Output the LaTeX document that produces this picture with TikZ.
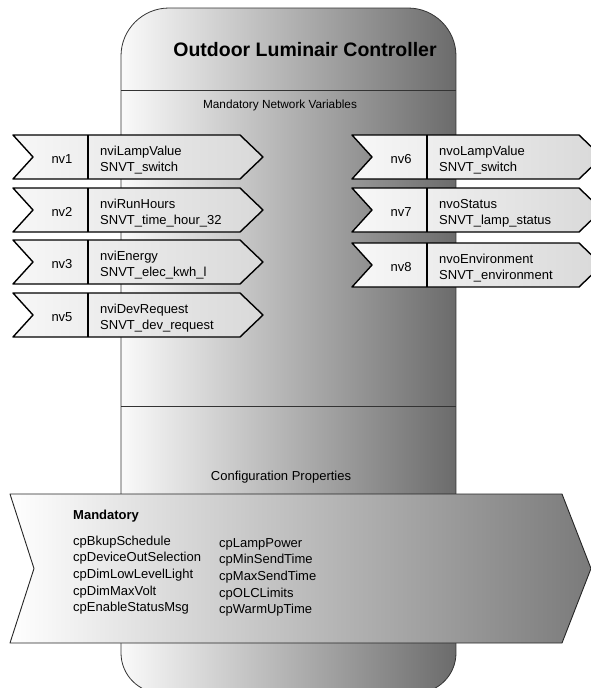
\documentclass[tikz,border=0pt]{standalone}
\usepackage{fontspec}
\setmainfont{Liberation Sans}
\begin{document}
\begin{tikzpicture}[x=1pt, y=-1pt, line join=round]
\tikzset{
  bodyfill/.style={left color=black!2, right color=black!58, draw=black!80, line width=0.8pt},
  cpfill/.style={left color=white, right color=black!52, draw=black!85, line width=0.9pt},
  tagfill/.style={left color=black!3, right color=black!15},
  tagline/.style={draw=black, line width=1.4pt},
  nvlabel/.style={font=\fontsize{13}{16}\selectfont, inner sep=0pt},
  nvtext/.style={font=\fontsize{13}{16}\selectfont, anchor=west, align=left, inner sep=0pt},
  cpitem/.style={font=\fontsize{13}{16}\selectfont, anchor=base west, inner sep=0pt}
}
\useasboundingbox (0,0) rectangle (591,688);
\clip (0,0) rectangle (591,688);
% controller body
\draw[bodyfill, rounded corners=48] (121,300) -- (121,8) -- (288,8) -- (456,8) -- (456,300)
  [rounded corners=40] -- (456,693) -- (288,693) -- (121,693) -- cycle;
\draw[black!80, line width=0.8pt] (121,90) -- (456,90);
\draw[black!80, line width=0.8pt] (121,406) -- (456,406);
\node[font=\fontsize{19.5}{22}\selectfont\bfseries] (title) at (305,50) {Outdoor Luminair Controller};
\node[font=\fontsize{11.8}{14}\selectfont] (nvhead) at (280,105) {Mandatory Network Variables};
\node[font=\fontsize{13}{15}\selectfont] (cphead) at (281,477) {Configuration Properties};
% network variable tags
\foreach \x/\y/\n/\a/\b in {13/157/nv1/nviLampValue/SNVT\_switch,
    13/210/nv2/nviRunHours/SNVT\_time\_hour\_32,
    13/262/nv3/nviEnergy/SNVT\_elec\_kwh\_l,
    13/315/nv5/nviDevRequest/SNVT\_dev\_request,
    352/157/nv6/nvoLampValue/SNVT\_switch,
    352/210/nv7/nvoStatus/SNVT\_lamp\_status,
    352/265/nv8/nvoEnvironment/SNVT\_environment}{
  \draw[tagfill, tagline] (\x,\y-22) -- (\x+227,\y-22) -- (\x+250,\y) -- (\x+227,\y+22)
    -- (\x,\y+22) -- (\x+20,\y) -- cycle;
  \draw[tagline] (\x+75,\y-22) -- (\x+75,\y+22);
  \node[nvlabel] (\n) at (\x+49,\y+2) {\n};
  \node[nvtext] (\n var) at (\x+87,\y+3) {\a\\\b};
}
% configuration properties
\draw[cpfill] (10,494) -- (562,494) -- (591,568.5) -- (562,643) -- (10,643) -- (34,568.5) -- cycle;
\node[font=\fontsize{13}{16}\selectfont\bfseries, anchor=base west, inner sep=0pt] (mand) at (73,519) {Mandatory};
\foreach \t [count=\i] in {cpBkupSchedule, cpDeviceOutSelection, cpDimLowLevelLight,
    cpDimMaxVolt, cpEnableStatusMsg}
  \node[cpitem] (cpa\i) at (73,528.3+16.7*\i) {\t};
\foreach \t [count=\i] in {cpLampPower, cpMinSendTime, cpMaxSendTime, cpOLCLimits, cpWarmUpTime}
  \node[cpitem] (cpb\i) at (219,530.3+16.7*\i) {\t};
\end{tikzpicture}
\end{document}
